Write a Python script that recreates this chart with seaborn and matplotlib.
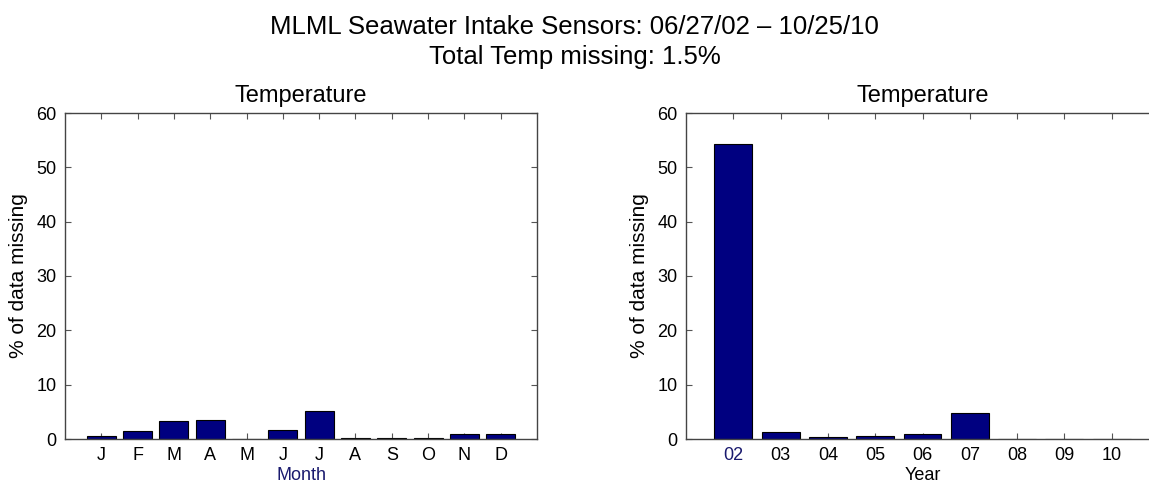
import matplotlib
matplotlib.use("Agg")
import matplotlib.pyplot as plt
import seaborn as sns
import pandas as pd

# ---- data ----
month_names = ["Jan", "Feb", "Mar", "Apr", "May", "Jun",
               "Jul", "Aug", "Sep", "Oct", "Nov", "Dec"]
month_labels = ["J", "F", "M", "A", "M", "J", "J", "A", "S", "O", "N", "D"]
month_missing = [0.6, 1.4, 3.3, 3.5, 0.05, 1.7, 5.2, 0.25, 0.1, 0.1, 1.0, 0.9]

year_labels = ["02", "03", "04", "05", "06", "07", "08", "09", "10"]
year_missing = [54.3, 1.2, 0.35, 0.6, 0.85, 4.8, 0.0, 0.05, 0.0]

main_title = "MLML Seawater Intake Sensors: 06/27/02 \u2013 10/25/10\nTotal Temp missing: 1.5%"
sub_title = "Temperature"
y_label = "% of data missing"

sns.set_theme(style="white")
plt.rcParams["font.family"] = ["Liberation Sans", "DejaVu Sans"]
plt.rcParams["text.color"] = "black"
plt.rcParams["axes.labelcolor"] = "black"
plt.rcParams["xtick.color"] = "black"
plt.rcParams["ytick.color"] = "black"

W, H = 1149, 484
fig = plt.figure(figsize=(W / 100, H / 100), dpi=100)

bar_color = "#000080"

def px_axes(x0, x1, y_top, y_bot):
    return fig.add_axes([x0 / W, (H - y_bot) / H, (x1 - x0) / W, (y_bot - y_top) / H])

ax1 = px_axes(65, 537, 113, 439)
ax2 = px_axes(686, 1159, 113, 439)

df1 = pd.DataFrame({"month": month_names, "missing": month_missing})
df2 = pd.DataFrame({"year": year_labels, "missing": year_missing})

sns.barplot(data=df1, x="month", y="missing", order=month_names, color=bar_color,
            saturation=1, edgecolor="black", linewidth=0.8, width=0.8, ax=ax1)
sns.barplot(data=df2, x="year", y="missing", order=year_labels, color=bar_color,
            saturation=1, edgecolor="black", linewidth=0.8, width=0.8, ax=ax2)

for ax in (ax1, ax2):
    ax.set_ylim(0, 60)
    ax.set_yticks([0, 10, 20, 30, 40, 50, 60])
    ax.set_ylabel(y_label, fontsize=15, labelpad=6, color="black")
    ax.set_title(sub_title, fontsize=17, pad=8, color="black")
    ax.tick_params(axis="both", direction="in", length=4, width=0.8,
                   top=True, right=True, bottom=True, left=True,
                   labelsize=13, pad=6, color="#555555", labelcolor="black")
    for s in ax.spines.values():
        s.set_visible(True)
        s.set_color("#444444")
        s.set_linewidth(1.0)

ax1.set_xlim(-1, 12)
ax1.set_xticks(range(12))
ax1.set_xticklabels(month_labels)
ax1.set_xlabel("Month", fontsize=13, color="#1a1a6e", labelpad=2)

ax2.set_xlim(-1, 9)
ax2.set_xticks(range(9))
ax2.set_xticklabels(year_labels)
ax2.get_xticklabels()[0].set_color("#1a1a6e")
ax2.set_xlabel("Year", fontsize=13, labelpad=2, color="black")

fig.suptitle(main_title, fontsize=18.5, y=0.968, va="top", linespacing=1.3, color="black")

fig.savefig("out.png", dpi=100)
